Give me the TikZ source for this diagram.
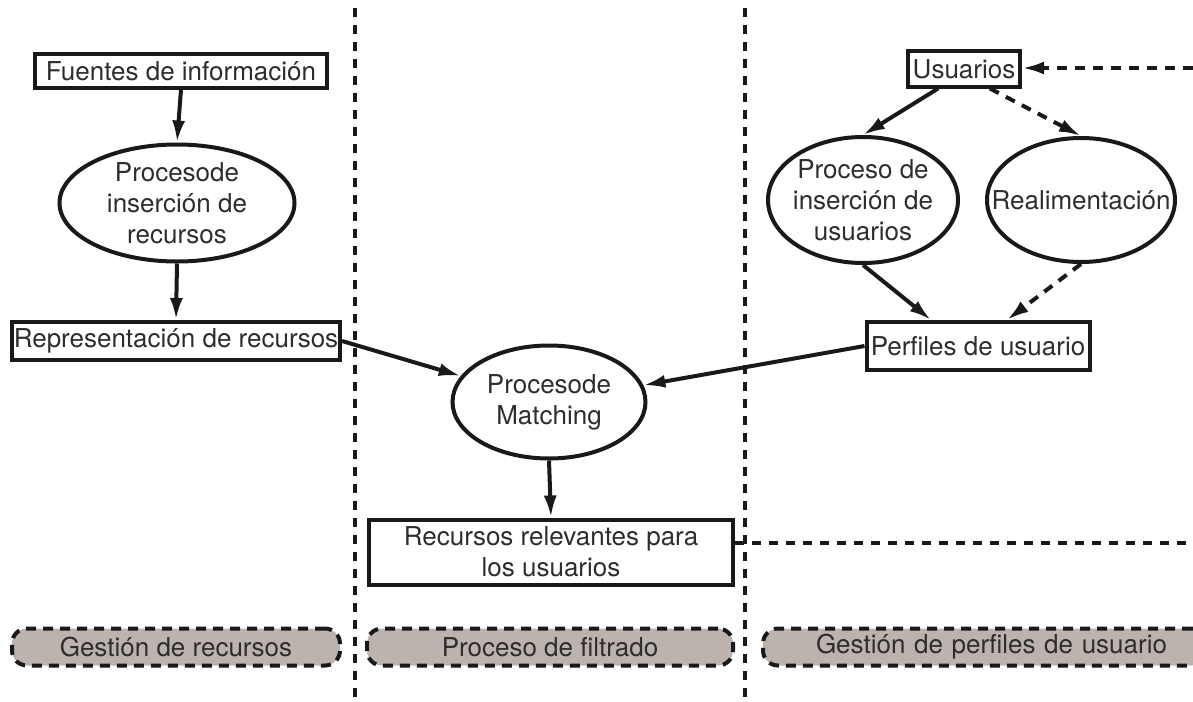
\documentclass[tikz,border=0pt]{standalone}
\usepackage{fontspec}
\setmainfont{TeX Gyre Heros}
\usetikzlibrary{shapes.geometric,arrows.meta,calc}
\definecolor{lanefill}{RGB}{188,179,175}
\definecolor{inkc}{RGB}{25,25,25}
\definecolor{txtc}{RGB}{45,45,45}
\begin{document}
\begin{tikzpicture}[x=1pt,y=-1pt,
  font=\fontsize{26}{31}\selectfont,
  box/.style={draw=inkc, line width=4pt, rectangle, inner sep=0pt, text=txtc, align=center},
  proc/.style={draw=inkc, line width=4pt, ellipse, inner sep=0pt},
  lbl/.style={text=txtc, align=center, inner sep=0pt},
  lane/.style={draw=inkc, line width=4pt, dash pattern=on 10pt off 7pt, fill=lanefill,
               rounded corners=15pt, inner sep=0pt, text=txtc},
  flow/.style={draw=inkc, line width=4pt, -{Latex[length=22pt,width=13pt]}},
  dflow/.style={flow, dash pattern=on 10pt off 8pt},
  sep/.style={draw=inkc, line width=4pt, dash pattern=on 9pt off 8pt}]
\useasboundingbox (0,0) rectangle (1193,701);

% lane separators
\coordinate (s1t) at (355,8);  \coordinate (s1b) at (355,701);
\coordinate (s2t) at (745,8);  \coordinate (s2b) at (745,701);
\draw[sep] (s1t) -- (s1b);
\draw[sep] (s2t) -- (s2b);

% left lane
\node[box, minimum width=292, minimum height=33] (fu) at (181,71) {Fuentes de información};
\node[proc, minimum width=235, minimum height=117] (e1) at (177,203) {};
\node[lbl] (e1t) at (e1) {Procesode\\inserción de\\recursos};
\node[box, minimum width=328, minimum height=38] (rep) at (176,341) {Representación de recursos};

% middle lane
\node[proc, minimum width=193, minimum height=113] (mat) at (549,402) {};
\node[lbl] (matt) at (mat) {Procesode\\Matching};
\node[box, minimum width=364, minimum height=65] (rec) at (551,552) {Recursos relevantes para\\los usuarios};

% right lane
\node[box, minimum width=112, minimum height=35] (usu) at (964,69) {Usuarios};
\node[proc, minimum width=190, minimum height=126] (e2) at (863,200) {};
\node[lbl] (e2t) at (e2) {Proceso de\\inserción de\\usuarios};
\node[proc, minimum width=188, minimum height=124] (re) at (1081,200) {};
\node[lbl] (ret) at (re) {Realimentación};
\node[box, minimum width=223, minimum height=48] (per) at (978,346) {Perfiles de usuario};

% lanes labels
\node[lane, minimum width=328, minimum height=37] (l1) at (176,647) {Gestión de recursos};
\node[lane, minimum width=366, minimum height=37] (l2) at (550,647) {Proceso de filtrado};
\node[lane, minimum width=444, minimum height=37, text width=410, align=left] (l3) at (985,647) {\hspace*{36pt}Gestión de perfiles de usuario};

% connectors
\draw[flow] (fu.south) -- (e1.north);
\draw[flow] (e1.south) -- (rep.north);
\draw[flow] (rep.east) -- (mat);
\draw[flow] (per.west) -- (mat);
\draw[flow] (mat.south) -- (rec.north);
\draw[flow] (usu.217) -- (e2.north);
\draw[dflow] (usu.323) -- (re.north);
\draw[flow] (e2.south) -- (per.151);
\draw[dflow] (re.south) -- (per.42);

\coordinate (usin) at (1193,68);
\draw[dflow] (usin) -- (usu.east |- usin);
\coordinate (recend) at (1193,543);
\draw[sep] (rec.east |- recend) -- (recend);
\end{tikzpicture}
\end{document}
